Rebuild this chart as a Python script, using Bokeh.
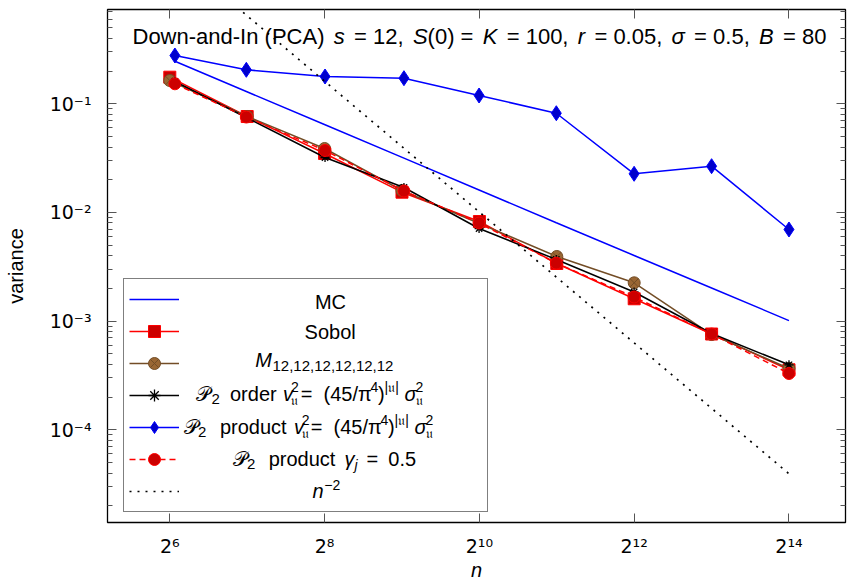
import math
from bokeh.plotting import figure
from bokeh.models import (Range1d, FixedTicker, LogAxis, Label, Legend, LegendItem,
                          CustomJSTickFormatter)
from bokeh.core.properties import value
from bokeh.embed import file_html
from bokeh.resources import INLINE

# ---------------- data ----------------
n_pow = [64, 128, 256, 512, 1024, 2048, 4096, 8192, 16384]
n_lat = [67, 127, 257, 521, 1021, 2039, 4093, 8191, 16381]

mc_var = [0.2466, 0.1298, 0.06423, 0.03165, 0.01609, 0.008034, 0.004018, 0.002018, 0.001012]
sobol_var = [0.1757, 0.07637, 0.03488, 0.01537, 0.008257, 0.003392, 0.001606, 0.000761, 0.0003566]
m_var = [0.1638, 0.0764, 0.03879, 0.01593, 0.00792, 0.003934, 0.002253, 0.000753, 0.0003667]
p2_order_var = [0.1604, 0.07478, 0.03204, 0.01698, 0.00712, 0.003692, 0.001855, 0.000769, 0.0003964]
p2_prod_var = [0.2782, 0.2055, 0.1783, 0.1720, 0.1192, 0.0819, 0.02269, 0.02666, 0.006971]
p2_gamma_var = [0.1528, 0.07556, 0.03717, 0.01576, 0.0080, 0.003413, 0.001668, 0.000761, 0.0003298]
ref_n = [64, 16384]
ref_var = [2.58, 3.94e-5]

x_ticks = [64, 256, 1024, 4096, 16384]
x_tick_labels = ["2\u2076", "2\u2078", "2\u00b9\u2070", "2\u00b9\u00b2", "2\u00b9\u2074"]
y_ticks = [1e-4, 1e-3, 1e-2, 1e-1]
y_tick_labels = ["10\u207b\u2074", "10\u207b\u00b3", "10\u207b\u00b2", "10\u207b\u00b9"]
y_minor = [k * 10.0 ** e for e in range(-5, 0) for k in range(2, 10)]

# ---------------- layout ----------------
FONT = "Liberation Sans"
W, H = 848, 583
BL, BR, BT, BB = 107, 3, 9, 61
FL, FR = BL, W - BR
FT, FB = BT, H - BB
LX0, LX1 = 5.1951, 14.7300
LY0, LY1 = -4.8530, -0.13226

p = figure(width=W, height=H, x_axis_type="log", y_axis_type="log",
           x_range=Range1d(2 ** LX0, 2 ** LX1), y_range=Range1d(10 ** LY0, 10 ** LY1),
           output_backend="svg", toolbar_location=None,
           min_border_left=BL, min_border_right=BR, min_border_top=BT, min_border_bottom=BB)
p.background_fill_color = "white"
p.border_fill_color = "white"
p.outline_line_color = "black"
p.outline_line_width = 1.3
p.xgrid.visible = False
p.ygrid.visible = False

blank = CustomJSTickFormatter(code="return ''")


def lookup_formatter(tick_values, tick_texts):
    return CustomJSTickFormatter(
        args=dict(tv=tick_values, tt=tick_texts),
        code="const i = tv.findIndex(t => Math.abs(Math.log(t / tick)) < 1e-6);"
             "return i >= 0 ? tt[i] : '';")


def style_axis(ax, show=False):
    ax.axis_line_color = None
    ax.major_tick_in = 9
    ax.major_tick_out = 0
    ax.minor_tick_in = 5
    ax.minor_tick_out = 0
    ax.major_tick_line_color = "#555555"
    ax.minor_tick_line_color = "#555555"
    if not show:
        ax.major_label_text_font_size = "0px"
        ax.major_label_standoff = 0
        ax.formatter = blank


xa = p.xaxis[0]
ya = p.yaxis[0]
xa.ticker = FixedTicker(ticks=x_ticks, minor_ticks=[])
ya.ticker = FixedTicker(ticks=y_ticks, minor_ticks=y_minor)
style_axis(xa, show=True)
style_axis(ya, show=True)
xa.formatter = lookup_formatter(x_ticks, x_tick_labels)
ya.formatter = lookup_formatter(y_ticks, y_tick_labels)
for ax in (xa, ya):
    ax.major_label_text_font = "DejaVu Sans"
    ax.major_label_text_font_size = "19px"
    ax.major_label_text_color = "black"
    ax.major_label_text_line_height = 1.0
    ax.axis_label_text_font = FONT
    ax.axis_label_text_font_size = "20px"
    ax.axis_label_text_color = "black"
    ax.axis_label_text_line_height = 1.0
xa.major_label_standoff = 12
xa.axis_label = "n"
xa.axis_label_text_font_style = "italic"
xa.axis_label_standoff = -1
ya.major_label_standoff = 16
ya.axis_label = "variance"
ya.axis_label_text_font_style = "normal"
ya.axis_label_standoff = 20

top_ax = LogAxis(ticker=FixedTicker(ticks=x_ticks, minor_ticks=[]))
right_ax = LogAxis(ticker=FixedTicker(ticks=y_ticks, minor_ticks=y_minor))
style_axis(top_ax)
style_axis(right_ax)
p.add_layout(top_ax, "above")
p.add_layout(right_ax, "right")

# ---------------- series ----------------
RED, DRED = "#ff0000", "#cc0000"
BLUE, DBLUE = "#0000ff", "#0000cc"
BROWN_L, BROWN_F = "#734d26", "#996633"

mc_l = p.line(n_lat, mc_var, line_color=BLUE, line_width=1.5)

sob_l = p.line(n_pow, sobol_var, line_color=RED, line_width=1.5)
sob_m = p.scatter(n_pow, sobol_var, marker="square", size=12, fill_color=DRED, line_color=RED)

m_l = p.line(n_pow, m_var, line_color=BROWN_L, line_width=1.5)
m_m = p.scatter(n_pow, m_var, marker="circle_x", size=12, fill_color=BROWN_F, line_color=BROWN_L)

o_l = p.line(n_lat, p2_order_var, line_color="black", line_width=1.5)
o_m = p.scatter(n_lat, p2_order_var, marker="asterisk", size=9, line_color="black", line_width=1.3)

d_l = p.line(n_lat, p2_prod_var, line_color=BLUE, line_width=1.5)
d_m = p.scatter(n_lat, p2_prod_var, marker="diamond", size=15, fill_color=DBLUE, line_color=BLUE)

g_l = p.line(n_lat, p2_gamma_var, line_color=RED, line_width=1.5, line_dash="6 4")
g_m = p.scatter(n_lat, p2_gamma_var, marker="circle", size=12, fill_color=DRED, line_color=RED)

r_l = p.line(ref_n, ref_var, line_color="black", line_width=1.7, line_dash="2 6")

items = [
    LegendItem(label=value(" "), renderers=[mc_l]),
    LegendItem(label=value(" "), renderers=[sob_l, sob_m]),
    LegendItem(label=value(" "), renderers=[m_l, m_m]),
    LegendItem(label=value(" "), renderers=[o_l, o_m]),
    LegendItem(label=value(" "), renderers=[d_l, d_m]),
    LegendItem(label=value(" "), renderers=[g_l, g_m]),
    LegendItem(label=value(" "), renderers=[r_l]),
]
legend = Legend(items=items, location=(16, 10), padding=5, spacing=2,
                glyph_height=30, glyph_width=50, label_height=30, label_width=303,
                label_standoff=0, margin=0, border_line_color="black", border_line_width=1.3,
                background_fill_alpha=0.0, label_text_alpha=0)
p.add_layout(legend)


# ---------------- text ----------------
def dx(px):
    return 2 ** (LX0 + (px - FL) / (FR - FL) * (LX1 - LX0))


def dy(py):
    return 10 ** (LY1 - (py - FT) / (FB - FT) * (LY1 - LY0))


def txt(px, py, s, size=20, italic=False, align="left"):
    # py is the wanted baseline; the renderer draws about 0.3 em lower
    p.add_layout(Label(x=dx(px), y=dy(py - 0.3 * size), text=s, text_font=FONT,
                       text_font_size=f"{size}px",
                       text_font_style="italic" if italic else "normal",
                       text_align=align, text_baseline="alphabetic",
                       text_color="black"))


ADV = {" ": 278, "(": 333, ")": 333, ",": 278, "-": 333, ".": 278, "=": 584,
       "A": 667, "B": 667, "C": 722, "D": 722, "I": 278, "K": 667, "P": 667, "S": 667,
       "a": 556, "d": 556, "n": 556, "o": 556, "r": 333, "s": 500, "w": 722, "\u03c3": 600}
for ch in "0123456789":
    ADV[ch] = 556


def width(s, size):
    return sum(ADV.get(c, 560) for c in s) / 1000.0 * size


# title: pieces chained left to right, spread to the reference's extent
title_pieces = [("Down-and-In (PCA)", False, True), ("s", True, True), ("= 12,", False, True),
                ("S", True, False), ("(0) =", False, True), ("K", True, True),
                ("= 100,", False, True), ("r", True, True), ("= 0.05,", False, True),
                ("\u03c3", True, True), ("= 0.5,", False, True), ("B", True, True),
                ("= 80", False, False)]
TS, TB, TX0, TX1 = 22, 43, 132, 826
natural = sum(width(s, TS) for s, _, _ in title_pieces)
gaps = [g for _, _, g in title_pieces if g]
extra = (TX1 - TX0 - natural) / len(gaps)
x = TX0
for s, it, g in title_pieces:
    txt(x, TB, s, size=TS, italic=it)
    x += width(s, TS) + (extra if g else 0)

# legend texts
SUP, SUB = -8, 5
CP = "\U0001D4AB"
FU = "\U0001D532"
txt(330, 307.3, "MC", align="center")
txt(329.7, 337.6, "Sobol", align="center")
b = 365.5
txt(254.8, b, "M", italic=True)
txt(272, b + 4, "12,12,12,12,12,12", size=15)
b = 399
for s, x, sz, off, it in [(CP, 195.9, 20, 0, False), ("2", 211, 15, 4, False),
                          ("order", 229.5, 20, 0, False), ("v", 282.4, 20, 0, True),
                          ("2", 290.5, 14, SUP, False), (FU, 290.5, 14, SUB, False),
                          ("=", 300.2, 20, 0, False), ("(45/\u03c0", 323, 20, 0, False),
                          ("4", 370, 14, SUP, False), (")", 377.5, 20, 0, False),
                          ("|" + FU + "|", 384, 14, SUP, False), ("\u03c3", 404, 20, 0, True),
                          ("2", 415, 14, SUP, False), (FU, 415, 14, SUB, False)]:
    txt(x, b + off, s, size=sz, italic=it)
b = 432
for s, x, sz, off, it in [(CP, 183.4, 20, 0, False), ("2", 197.5, 15, 4, False),
                          ("product", 219.4, 20, 0, False), ("v", 293.5, 20, 0, True),
                          ("2", 301.2, 14, SUP, False), (FU, 301.2, 14, SUB, False),
                          ("=", 310.3, 20, 0, False), ("(45/\u03c0", 333, 20, 0, False),
                          ("4", 380, 14, SUP, False), (")", 387.5, 20, 0, False),
                          ("|" + FU + "|", 394, 14, SUP, False), ("\u03c3", 414, 20, 0, True),
                          ("2", 425, 14, SUP, False), (FU, 425, 14, SUB, False)]:
    txt(x, b + off, s, size=sz, italic=it)
b = 464
for s, x, sz, off, it in [(CP, 232.9, 20, 0, False), ("2", 246.4, 15, 4, False),
                          ("product", 268.2, 20, 0, False), ("\u03b3", 344, 20, 0, True),
                          ("j", 354.1, 14, SUB, True), ("=", 365.9, 20, 0, False),
                          ("0.5", 387.8, 20, 0, False)]:
    txt(x, b + off, s, size=sz, italic=it)
b = 496.5
txt(312, b, "n", italic=True)
txt(323.8, b + SUP, "\u22122", size=14)

open("out.html", "w").write(file_html(p, INLINE))
